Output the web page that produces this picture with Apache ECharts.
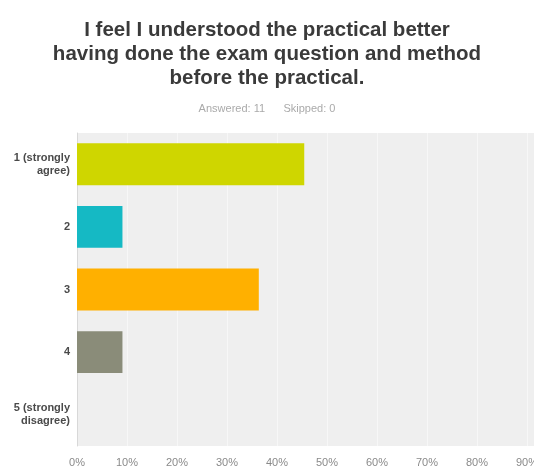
<!DOCTYPE html>
<html>
<head>
<meta charset="utf-8">
<script src="https://cdn.jsdelivr.net/npm/echarts@6/dist/echarts.min.js"></script>
<style>
html,body{margin:0;padding:0;background:#fff;}
#c{width:534px;height:470px;}
</style>
</head>
<body>
<div id="c"></div>
<script>
const titleText = "I feel I understood the practical better\nhaving done the exam question and method\nbefore the practical.";
const subtitleText = "Answered: 11      Skipped: 0";
const categories = ["1 (strongly\nagree)", "2", "3", "4", "5 (strongly\ndisagree)"];
const percentages = [45.45, 9.09, 36.36, 9.09, 0];
const barColors = ["#cfd600", "#15b9c4", "#ffb000", "#8a8c79", "#cccccc"];
const xTicks = [0, 10, 20, 30, 40, 50, 60, 70, 80, 90, 100];

const chart = echarts.init(document.getElementById('c'), null, {renderer: 'canvas'});
chart.setOption({
  animation: false,
  backgroundColor: '#ffffff',
  title: [{
    text: titleText,
    left: 'center',
    top: 13,
    textStyle: {fontFamily: 'Liberation Sans, Arial, sans-serif', fontSize: 20.5, fontWeight: 'bold', color: '#3a3a3a', lineHeight: 24}
  }, {
    text: subtitleText,
    left: 'center',
    top: 98,
    textStyle: {fontFamily: 'Liberation Sans, Arial, sans-serif', fontSize: 11, fontWeight: 'normal', color: '#aaaaaa'}
  }],
  grid: {
    left: 77, width: 500, top: 133, bottom: 24,
    show: true, backgroundColor: '#efefef', borderWidth: 0,
    containLabel: false,
    outerBoundsMode: 'none'
  },
  xAxis: {
    type: 'value', min: 0, max: 100, interval: 10,
    axisLine: {show: false}, axisTick: {show: false},
    splitLine: {show: true, lineStyle: {color: '#f7f7f7', width: 1}},
    axisLabel: {formatter: v => v + '%', color: '#8a8a8a', fontSize: 11, margin: 11,
      fontFamily: 'Liberation Sans, Arial, sans-serif'}
  },
  yAxis: {
    type: 'category', data: categories, inverse: true,
    axisLine: {show: true, lineStyle: {color: '#d8d8d8'}},
    axisTick: {show: false},
    axisLabel: {color: '#4a4a4a', fontSize: 11, fontWeight: 'bold', margin: 7, lineHeight: 13, align: 'right',
      fontFamily: 'Liberation Sans, Arial, sans-serif'}
  },
  series: [{
    type: 'bar',
    data: percentages.map((v, i) => ({value: v, itemStyle: {color: barColors[i]}})),
    barCategoryGap: '33%',
    label: {show: false}
  }]
});
</script>
</body>
</html>
